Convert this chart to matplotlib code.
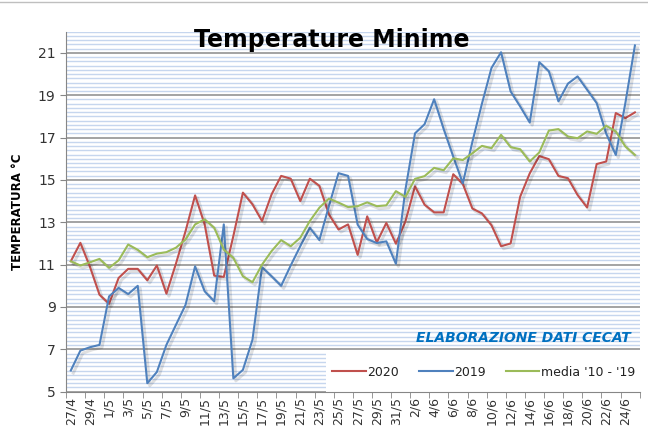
import numpy as np
import pandas as pd
import matplotlib
matplotlib.use("Agg")
import matplotlib.pyplot as plt
import matplotlib.patheffects as pe
from matplotlib.patches import Rectangle
from matplotlib.lines import Line2D

# daily categories 27/4 .. 25/6
dates = pd.date_range("2020-04-27", "2020-06-25")
day_labels = [f"{d.day}/{d.month}" for d in dates]

t_2020 = [11.16, 12.03, 10.90, 9.58, 9.15, 10.37, 10.80, 10.80, 10.26, 10.96,
          9.63, 11.05, 12.58, 14.27, 12.90, 10.48, 10.42, 12.35, 14.40, 13.85,
          13.06, 14.32, 15.19, 15.06, 14.00, 15.06, 14.72, 13.37, 12.66, 12.90,
          11.46, 13.28, 12.05, 12.97, 11.99, 13.04, 14.70, 13.83, 13.47, 13.47,
          15.27, 14.81, 13.65, 13.42, 12.86, 11.87, 12.00, 14.21, 15.31, 16.13,
          15.98, 15.19, 15.08, 14.29, 13.70, 15.75, 15.87, 18.16, 17.92, 18.19]

t_2019 = [6.00, 6.94, 7.10, 7.21, 9.50, 9.90, 9.61, 10.00, 5.40, 5.93,
          7.21, 8.16, 9.10, 10.92, 9.74, 9.27, 12.90, 5.63, 6.03, 7.45,
          10.88, 10.45, 10.00, 10.96, 11.87, 12.74, 12.16, 13.77, 15.32, 15.19,
          12.89, 12.21, 12.02, 12.10, 11.04, 14.55, 17.20, 17.63, 18.81, 17.40,
          16.10, 14.84, 16.80, 18.60, 20.29, 21.03, 19.18, 18.47, 17.71, 20.56,
          20.13, 18.71, 19.55, 19.89, 19.26, 18.63, 17.18, 16.18, 18.63, 21.35]

t_media = [11.16, 10.96, 11.11, 11.27, 10.85, 11.20, 11.95, 11.70, 11.35, 11.52,
           11.59, 11.80, 12.19, 12.90, 13.14, 12.74, 11.71, 11.32, 10.45, 10.17,
           11.00, 11.64, 12.16, 11.87, 12.27, 13.06, 13.69, 14.12, 13.93, 13.72,
           13.76, 13.94, 13.76, 13.80, 14.47, 14.20, 15.05, 15.18, 15.57, 15.46,
           16.02, 15.94, 16.26, 16.61, 16.50, 17.13, 16.55, 16.45, 15.87, 16.30,
           17.33, 17.40, 17.05, 16.97, 17.29, 17.18, 17.56, 17.29, 16.58, 16.18]

series = [("2020", t_2020, "#C0504D"),
          ("2019", t_2019, "#4F81BD"),
          ("media '10 - '19", t_media, "#9BBB59")]

fig = plt.figure(figsize=(6.48, 4.36), dpi=100)
ax = fig.add_axes([0.1019, 0.1016, 0.8853, 0.8257])

x = np.arange(len(day_labels))
shadow = [pe.SimpleLineShadow(offset=(1.8, -1.8), shadow_color="black", alpha=0.12, linewidth=2.2),
          pe.Normal()]
handles = []
for name, vals, col in series:
    ax.plot(x, vals, color=col, lw=1.5, zorder=3, path_effects=shadow)
    handles.append(Line2D([], [], color=col, lw=1.5, label=name))

ax.set_xlim(-0.5, len(x) - 0.5)
ax.set_ylim(5, 22)
ax.set_yticks(np.arange(5, 22, 2))
ax.set_yticks(np.arange(5, 22.01, 0.2), minor=True)
ax.set_xticks(x[::2])
ax.set_xticklabels(day_labels[::2], rotation=90, fontsize=9, color="#333333")
ax.set_xticks(np.arange(-0.5, len(x), 2), minor=True)
ax.tick_params(axis="x", which="major", length=0, pad=4)
ax.tick_params(axis="x", which="minor", length=4, color="#868686")
ax.tick_params(axis="y", which="major", length=4, color="#868686", labelsize=10, labelcolor="#333333")
ax.tick_params(axis="y", which="minor", length=0)

ax.set_axisbelow(True)
ax.grid(True, axis="y", which="minor", color="#C6D6EE", lw=1)
ax.grid(True, axis="y", which="major", color="#8A8A8A", lw=1.1)
for s in ("top", "right"):
    ax.spines[s].set_visible(False)
for s in ("left", "bottom"):
    ax.spines[s].set_color("#868686")

ax.set_ylabel("TEMPERATURA °C", fontsize=8.5, fontweight="bold", labelpad=10)

# white box behind the legend
ax.add_patch(Rectangle((0.454, 0.0), 0.546, 0.108, transform=ax.transAxes,
                       facecolor="white", edgecolor="none", zorder=2))
ax.legend(handles=handles, loc="center", bbox_to_anchor=(0.728, 0.054), ncol=3,
          frameon=False, fontsize=9, handlelength=2.7, handletextpad=0.1,
          columnspacing=1.6, labelcolor="#222222")

ax.text(0.984, 7.54, "ELABORAZIONE DATI CECAT", transform=ax.get_yaxis_transform(),
        ha="right", va="center", color="#0070C0", fontsize=10,
        fontweight="bold", fontstyle="italic", zorder=4)

fig.text(0.512, 0.908, "Temperature Minime", ha="center", va="center",
         fontsize=17, fontweight="bold", color="black")

# outer chart frame (top edge)
fig.add_artist(Line2D([0, 1], [0.995, 0.995], transform=fig.transFigure, color="#BFBFBF", lw=1))

fig.savefig("out.png", dpi=100)
